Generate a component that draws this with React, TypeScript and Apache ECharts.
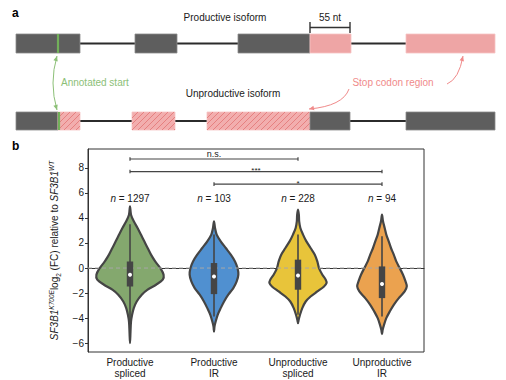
import React, { useEffect, useRef } from "react";
import * as echarts from "echarts";

// ---------- data ----------
const categories = ["Productive\nspliced", "Productive\nIR", "Unproductive\nspliced", "Unproductive\nIR"];
const counts = [1297, 103, 228, 94];
const violinColors = ["#84a86e", "#5090d0", "#e8c43a", "#eba24f"];

// violin profiles: y levels and half-widths (fraction of category band)
const v1Y = [4.93, 4.26, 3.73, 3.2, 2.67, 2.13, 1.6, 1.07, 0.53, 0, -0.53, -0.93, -1.33, -1.73, -2.13, -2.67, -3.2, -3.73, -4.27, -5.07, -6.0];
const v1W = [0, 0.012, 0.045, 0.09, 0.13, 0.17, 0.21, 0.25, 0.3, 0.36, 0.4, 0.39, 0.31, 0.21, 0.14, 0.08, 0.045, 0.025, 0.012, 0.006, 0];
const v2Y = [3.73, 3.2, 2.67, 2.13, 1.6, 1.07, 0.53, 0, -0.53, -1.07, -1.6, -2.13, -2.67, -3.2, -3.73, -4.27, -4.67, -5.07];
const v2W = [0, 0.012, 0.032, 0.08, 0.14, 0.2, 0.25, 0.28, 0.29, 0.27, 0.23, 0.17, 0.12, 0.08, 0.044, 0.02, 0.006, 0];
const v3Y = [4.67, 4.27, 3.73, 3.2, 2.67, 2.13, 1.6, 1.07, 0.53, 0, -0.53, -0.93, -1.2, -1.47, -1.87, -2.27, -2.67, -3.2, -3.73, -4.13, -4.4];
const v3W = [0, 0.01, 0.014, 0.028, 0.06, 0.1, 0.15, 0.2, 0.23, 0.25, 0.29, 0.33, 0.34, 0.31, 0.23, 0.15, 0.092, 0.051, 0.024, 0.008, 0];
const v4Y = [4.27, 3.73, 3.2, 2.67, 2.13, 1.6, 1.07, 0.53, 0, -0.53, -1.07, -1.47, -1.87, -2.4, -2.93, -3.47, -4.0, -4.53, -4.93, -5.28];
const v4W = [0, 0.012, 0.032, 0.051, 0.08, 0.107, 0.14, 0.17, 0.21, 0.25, 0.28, 0.295, 0.27, 0.2, 0.14, 0.092, 0.051, 0.024, 0.008, 0];
const violinY = [v1Y, v2Y, v3Y, v4Y];
const violinW = [v1W, v2W, v3W, v4W];

const q1 = [-1.47, -2.08, -1.73, -2.4];
const q3 = [0.53, 0.4, 0.67, 0.13];
const medians = [-0.54, -0.67, -0.59, -1.28];
const whiskerLow = [-4.4, -3.87, -3.73, -3.87];
const whiskerHigh = [3.5, 2.67, 2.67, 2.53];

const compFrom = [0, 0, 1];
const compTo = [2, 3, 3];
const compY = [8.7, 7.7, 6.7];
const compLabel = ["n.s.", "***", "*"];
const nLabelY = 5.55;
const refLineY = 0;

const yTicks = [-6, -4, -2, 0, 2, 4, 6, 8];

// ---------- panel a schematic (exon segments) ----------
const topExons: [number, number, string][] = [[16, 80, "g"], [135, 177, "g"], [238, 310, "g"], [310, 351, "p"], [406, 495, "p"]];
const topIntrons: [number, number][] = [[80, 135], [177, 238], [351, 406]];
const botExons: [number, number, string][] = [[16, 58, "g"], [58, 80, "h"], [132, 175, "h"], [207, 310, "h"], [310, 350, "g"], [406, 495, "g"]];
const botIntrons: [number, number][] = [[80, 132], [175, 207], [350, 406]];

const FONT = "Liberation Sans, Arial, sans-serif";
const DARK = "#454545";

function arrowHead(tip: number[], from: number[], color: string, size = 5) {
  const dx = tip[0] - from[0], dy = tip[1] - from[1];
  const len = Math.hypot(dx, dy) || 1;
  const ux = dx / len, uy = dy / len;
  const bx = tip[0] - ux * size, by = tip[1] - uy * size;
  const px = -uy * size * 0.45, py = ux * size * 0.45;
  return {
    type: "polygon",
    shape: { points: [tip, [bx + px, by + py], [bx - px, by - py]] },
    style: { fill: color },
    silent: true,
  };
}

function buildSchematic() {
  const els: any[] = [];
  const row = (exons: [number, number, string][], introns: [number, number][], y0: number, y1: number) => {
    const yc = (y0 + y1) / 2;
    introns.forEach(([a, b]) => {
      els.push({ type: "line", shape: { x1: a, y1: yc, x2: b, y2: yc }, style: { stroke: "#2b2b2b", lineWidth: 2 } });
    });
    exons.forEach(([a, b, k]) => {
      if (k === "g") {
        els.push({ type: "rect", shape: { x: a, y: y0, width: b - a, height: y1 - y0 }, style: { fill: "#5e5e5e", stroke: "#8a8a8a", lineWidth: 0.8 } });
      } else if (k === "p") {
        els.push({ type: "rect", shape: { x: a, y: y0, width: b - a, height: y1 - y0 }, style: { fill: "#eea5a5", stroke: "#f6c4c4", lineWidth: 0.8 } });
      } else {
        els.push({ type: "rect", shape: { x: a, y: y0, width: b - a, height: y1 - y0 }, style: { fill: "#f2aeae", stroke: "#f6c4c4", lineWidth: 0.8 } });
        const h = y1 - y0;
        const step = 6;
        for (let s0 = a - h; s0 < b; s0 += step) {
          let sa = 0, sb = h;
          if (s0 + sa < a) sa = a - s0;
          if (s0 + sb > b) sb = b - s0;
          if (sb <= sa) continue;
          els.push({ type: "line", shape: { x1: s0 + sa, y1: y1 - sa, x2: s0 + sb, y2: y1 - sb }, style: { stroke: "#e47a7a", lineWidth: 0.9 } });
        }
      }
    });
  };
  row(topExons, topIntrons, 34, 53);
  row(botExons, botIntrons, 112, 130);

  els.push({ type: "line", shape: { x1: 58, y1: 34, x2: 58, y2: 53 }, style: { stroke: "#72b05a", lineWidth: 2.2 } });
  els.push({ type: "line", shape: { x1: 59, y1: 112, x2: 59, y2: 130 }, style: { stroke: "#72b05a", lineWidth: 2.2 } });

  els.push({ type: "line", shape: { x1: 310, y1: 27.5, x2: 350, y2: 27.5 }, style: { stroke: "#333", lineWidth: 1.4 } });
  els.push({ type: "line", shape: { x1: 310, y1: 22, x2: 310, y2: 33 }, style: { stroke: "#333", lineWidth: 1.4 } });
  els.push({ type: "line", shape: { x1: 350, y1: 22, x2: 350, y2: 33 }, style: { stroke: "#333", lineWidth: 1.4 } });

  const txt = (x: number, y: number, text: string, fill: string, size = 10, align = "center", weight = "normal") =>
    els.push({ type: "text", x, y, style: { text, fill, font: `${weight} ${size}px ${FONT}`, align, verticalAlign: "middle" } });

  txt(12, 13, "a", "#000", 12, "left", "bold");
  txt(12, 146, "b", "#000", 12, "left", "bold");
  txt(225, 17, "Productive isoform", "#1a1a1a", 10);
  txt(330, 17, "55 nt", "#1a1a1a", 10);
  txt(233, 93, "Unproductive isoform", "#1a1a1a", 10);
  txt(61, 82, "Annotated start", "#8cc077", 10, "left");
  txt(393, 82, "Stop codon region", "#f08a8a", 10);

  const g = "#8cc077";
  els.push({ type: "bezierCurve", shape: { x1: 57, y1: 56, x2: 57, y2: 110, cpx1: 49, cpy1: 83 }, style: { stroke: g, lineWidth: 1, fill: "none" } });
  els.push(arrowHead([57, 56], [55.5, 61], g));
  els.push(arrowHead([57, 110], [55.5, 105], g));

  const p = "#f08a8a";
  els.push({ type: "bezierCurve", shape: { x1: 349, y1: 89, x2: 309, y2: 109, cpx1: 343, cpy1: 106 }, style: { stroke: p, lineWidth: 1, fill: "none" } });
  els.push(arrowHead([309, 109], [316, 107.5], p));
  els.push({ type: "bezierCurve", shape: { x1: 447, y1: 84, x2: 463, y2: 56, cpx1: 459, cpy1: 79 }, style: { stroke: p, lineWidth: 1, fill: "none" } });
  els.push(arrowHead([463, 56], [461.5, 62], p));
  return els;
}

export default function App() {
  const ref = useRef<HTMLDivElement>(null);
  useEffect(() => {
    if (!ref.current) return;
    const chart = echarts.init(ref.current, null, { renderer: "svg" });

    const violinShapeSeries = {
      type: "custom",
      data: categories.map((_, i) => [i, medians[i]]),
      encode: { x: 0, y: 1 },
      z: 2,
      renderItem: (params: any, api: any) => {
        const i = api.value(0);
        const band = api.size([1, 0])[0];
        const ys = violinY[i], ws = violinW[i];
        const right: number[][] = [], left: number[][] = [];
        for (let k = 0; k < ys.length; k++) {
          const pt = api.coord([i, ys[k]]);
          right.push([pt[0] + ws[k] * band, pt[1]]);
          if (k > 0 && k < ys.length - 1) left.push([pt[0] - ws[k] * band, pt[1]]);
        }
        const pts = right.concat(left.reverse());
        return { type: "polygon", shape: { points: pts, smooth: 0.3 }, style: { fill: violinColors[i], stroke: DARK, lineWidth: 2.2 } };
      },
    };

    const zeroLineSeries = {
      type: "custom",
      data: [[0, refLineY]],
      encode: { x: 0, y: 1 },
      z: 3,
      renderItem: (params: any, api: any) => {
        const y = api.coord([0, refLineY])[1];
        const x0 = params.coordSys.x, x1 = params.coordSys.x + params.coordSys.width;
        return { type: "line", shape: { x1: x0, y1: y, x2: x1, y2: y }, style: { stroke: "#a8a8a8", lineWidth: 1, lineDash: [4, 3] } };
      },
    };

    const boxSeries = {
      type: "custom",
      data: categories.map((_, i) => [i, medians[i]]),
      encode: { x: 0, y: 1 },
      z: 4,
      renderItem: (params: any, api: any) => {
        const i = api.value(0);
        const c = api.coord([i, 0])[0];
        const yLo = api.coord([i, whiskerLow[i]])[1];
        const yHi = api.coord([i, whiskerHigh[i]])[1];
        const yQ1 = api.coord([i, q1[i]])[1];
        const yQ3 = api.coord([i, q3[i]])[1];
        const yMed = api.coord([i, medians[i]])[1];
        return {
          type: "group",
          children: [
            { type: "line", shape: { x1: c, y1: yLo, x2: c, y2: yHi }, style: { stroke: DARK, lineWidth: 1.6 } },
            { type: "rect", shape: { x: c - 3.2, y: yQ3, width: 6.4, height: yQ1 - yQ3 }, style: { fill: DARK } },
            { type: "circle", shape: { cx: c, cy: yMed, r: 2 }, style: { fill: "#ffffff" } },
          ],
        };
      },
    };

    const annotSeries = {
      type: "custom",
      data: compY.map((y, k) => [compFrom[k], y, k]),
      encode: { x: 0, y: 1 },
      z: 5,
      renderItem: (params: any, api: any) => {
        const k = api.value(2);
        const a = api.coord([compFrom[k], compY[k]]);
        const b = api.coord([compTo[k], compY[k]]);
        const isStar = compLabel[k].indexOf("*") >= 0;
        return {
          type: "group",
          children: [
            { type: "line", shape: { x1: a[0], y1: a[1], x2: b[0], y2: b[1] }, style: { stroke: DARK, lineWidth: 1.2 } },
            { type: "line", shape: { x1: a[0], y1: a[1] - 1.8, x2: a[0], y2: a[1] + 1.8 }, style: { stroke: DARK, lineWidth: 1.2 } },
            { type: "line", shape: { x1: b[0], y1: b[1] - 1.8, x2: b[0], y2: b[1] + 1.8 }, style: { stroke: DARK, lineWidth: 1.2 } },
            {
              type: "text",
              x: (a[0] + b[0]) / 2,
              y: a[1] + (isStar ? 3 : -0.5),
              style: { text: compLabel[k], fill: "#222", font: `${isStar ? 8 : 9}px ${FONT}`, align: "center", verticalAlign: "bottom" },
            },
          ],
        };
      },
    };

    const nSeries = {
      type: "custom",
      data: counts.map((n, i) => [i, nLabelY, n]),
      encode: { x: 0, y: 1 },
      z: 5,
      renderItem: (params: any, api: any) => {
        const i = api.value(0);
        const pt = api.coord([i, nLabelY]);
        return {
          type: "text",
          x: pt[0],
          y: pt[1],
          style: {
            text: `{i|n} = ${counts[i]}`,
            fill: "#1a1a1a",
            font: `10px ${FONT}`,
            align: "center",
            verticalAlign: "middle",
            rich: { i: { fontStyle: "italic", fontSize: 10, fontFamily: FONT, fill: "#1a1a1a" } },
          },
        };
      },
    };

    chart.setOption({
      animation: false,
      textStyle: { fontFamily: FONT },
      grid: { left: 88, top: 149, right: 82, bottom: 28, show: true, borderColor: "#333", borderWidth: 1, backgroundColor: "transparent" },
      xAxis: {
        type: "category",
        data: categories,
        axisLine: { lineStyle: { color: "#333", width: 1 } },
        axisTick: { show: true, alignWithLabel: true, length: 3, lineStyle: { color: "#333" } },
        axisLabel: { fontSize: 10, color: "#1a1a1a", lineHeight: 11, margin: 5, fontFamily: FONT },
        splitLine: { show: false },
      },
      yAxis: {
        type: "value",
        min: -6.7,
        max: 9.5,
        axisLine: { show: true, lineStyle: { color: "#333", width: 1 } },
        axisTick: { show: true, length: 3, customValues: yTicks, lineStyle: { color: "#333" } },
        axisLabel: {
          fontSize: 10,
          color: "#1a1a1a",
          margin: 4,
          fontFamily: FONT,
          customValues: yTicks,
          formatter: (v: number) => String(v).replace("-", "\u2212"),
        },
        splitLine: { show: false },
        name: "{it|SF3B1}{sup|K700E}{r|log}{sub|2}{r| (FC) relative to }{it|SF3B1}{sup|WT}",
        nameLocation: "middle",
        nameRotate: 90,
        nameGap: 17,
        nameTextStyle: {
          fontSize: 10,
          color: "#1a1a1a",
          fontFamily: FONT,
          rich: {
            it: { fontStyle: "italic", fontSize: 10, lineHeight: 14, fontFamily: FONT, color: "#1a1a1a" },
            r: { fontSize: 10, lineHeight: 14, fontFamily: FONT, color: "#1a1a1a" },
            sup: { fontStyle: "italic", fontSize: 6.5, lineHeight: 14, verticalAlign: "top", fontFamily: FONT, color: "#1a1a1a" },
            sub: { fontSize: 6.5, lineHeight: 14, verticalAlign: "bottom", fontFamily: FONT, color: "#1a1a1a" },
          },
        },
      },
      series: [violinShapeSeries, zeroLineSeries, boxSeries, annotSeries, nSeries],
      graphic: buildSchematic(),
    });
    return () => chart.dispose();
  }, []);
  return <div ref={ref} style={{ position: "fixed", left: 0, top: 0, width: 506, height: 380, background: "#fff" }} />;
}
